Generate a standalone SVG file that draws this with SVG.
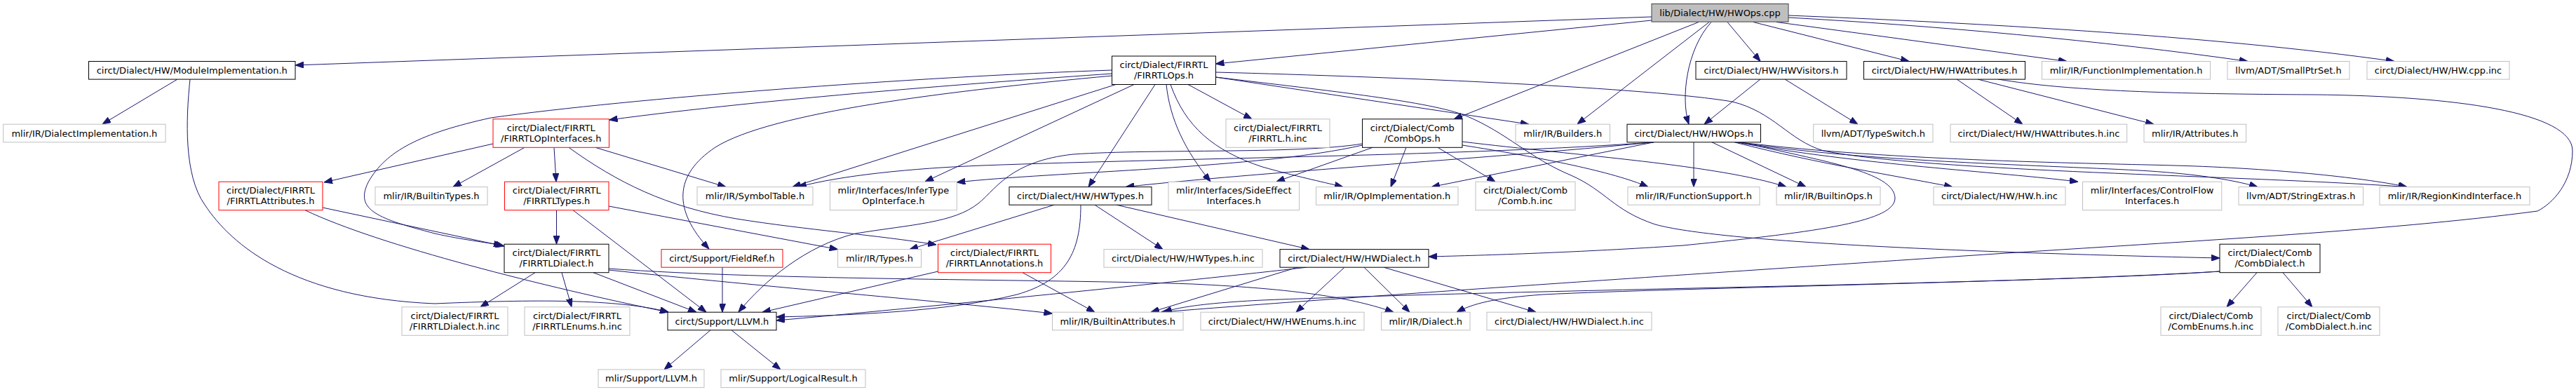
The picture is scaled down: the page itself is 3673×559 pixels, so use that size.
<svg xmlns="http://www.w3.org/2000/svg" width="3673" height="559" viewBox="0 0 3673 559">
<style>
rect.n{fill:#fff;stroke-width:1}
.b{stroke:#000}
.g{stroke:#bfbfbf}
.r{stroke:#ff0000}
rect.root{fill:#bfbfbf;stroke:#404040;stroke-width:1}
text{font-family:'DejaVu Sans','Liberation Sans',sans-serif;font-size:13px;text-anchor:middle;fill:#000}
#edges path{fill:none;stroke:#191970;stroke-width:1;marker-end:url(#ah)}
</style>
<defs>
<marker id="ah" viewBox="0 0 12 9" refX="12" refY="4.5" markerWidth="12" markerHeight="9" markerUnits="userSpaceOnUse" orient="auto">
<path d="M0,0 L12,4.5 L0,9 z" fill="#191970" stroke="#191970" stroke-width="1"/>
</marker>
</defs>
<rect x="0" y="0" width="3673" height="559" fill="#fff"/>
<g id="edges">
<path d="M2355,24 L421,93"/>
<path d="M2355,29 L1733.5,91"/>
<path d="M2422,31.5 L2073,170"/>
<path d="M2437,31.5 L2249,177"/>
<path d="M2440,31.5 C2405,70 2396,140 2408,177"/>
<path d="M2463,31.5 L2510,87.5"/>
<path d="M2500,31.5 L2722,87.5"/>
<path d="M2533,31.5 L2947,87.5"/>
<path d="M2550,25 C2750,36 3000,58 3205,87.5"/>
<path d="M2550,22 C2800,32 3150,50 3414,87.5"/>
<path d="M253,113 L146,177"/>
<path d="M271,113 C265,170 262,250 292,292 C330,350 420,425 620,433 C760,427 880,426 953,445"/>
<path d="M1585.5,105 C1400,118 1100,140 868.5,171"/>
<path d="M1585.5,100 C1300,110 900,140 700,168 C600,190 550,215 525,260 C505,300 540,312 620,333 C660,342 690,345 716,350"/>
<path d="M1591,120.5 L1130,266.5"/>
<path d="M1585.5,108 C1350,130 1100,160 1020,210 C960,250 960,300 1011,355"/>
<path d="M1617,120.5 L1319,259"/>
<path d="M1647,120.5 L1552,266.6"/>
<path d="M1663,120.5 C1668,170 1690,215 1726,259"/>
<path d="M1669,120.5 C1690,180 1730,215 1800,238 C1850,252 1880,258 1915,266.6"/>
<path d="M1694,120.5 L1785,169.8"/>
<path d="M1733.5,110 L2180,177.2"/>
<path d="M1733.5,103 C2000,110 2350,125 2470,145 C2530,160 2550,200 2600,215 C2750,245 3200,250 3432,266.6"/>
<path d="M1733.5,110 C1900,130 2040,145 2090,165 C2150,190 2180,225 2240,250 C2290,272 2300,300 2360,320 C2450,345 2800,360 3165,368"/>
<path d="M1942.5,205 C1850,220 1650,212 1530,220 C1440,230 1420,270 1395,290 C1360,318 1300,320 1220,333 C1150,350 1090,400 1053,445"/>
<path d="M1942.5,207 C1800,240 1500,245 1364.3,260"/>
<path d="M1958,210 L1820,259"/>
<path d="M2005,210.3 L1983,266.6"/>
<path d="M2050,210.3 L2132,259.2"/>
<path d="M2085,207 C2200,225 2300,245 2350,266.6"/>
<path d="M2085,202 C2250,222 2450,235 2547,266.6"/>
<path d="M2415,202.8 L2415,266.6"/>
<path d="M2441,202.8 L2575,266.6"/>
<path d="M2473,202.8 C2600,235 2700,250 2784,266.6"/>
<path d="M2476,202.8 C2650,235 2850,245 2963,259.2"/>
<path d="M2478,202.8 C2650,230 2900,235 3050,243 C3120,247 3180,255 3219,266.6"/>
<path d="M2480,202.8 C2700,230 3000,233 3100,236 C3250,240 3380,255 3432,266.6"/>
<path d="M2482,202.8 C2600,230 2700,245 2702,282 C2703,315 2600,330 2400,350 C2250,360 2120,364 2037,366"/>
<path d="M2358,202.8 L2041,266.6"/>
<path d="M2358,202.8 C2100,222 1700,225 1400,236 C1300,240 1200,250 1138,266.6"/>
<path d="M2358,202.8 C2100,228 1800,245 1605,266.6"/>
<path d="M2510,113 L2430,177.2"/>
<path d="M2545,113 L2649,177.2"/>
<path d="M2790,113 L2884,177.2"/>
<path d="M2820,113 L3071,177.2"/>
<path d="M2849,113 C2950,130 3100,134 3300,135 C3500,137 3668,160 3668,215 C3668,260 3640,290 3618,301 C3400,330 3100,345 2800,365 C2400,392 1900,425 1655,445.2"/>
<path d="M3218,388.7 L3175,437.8"/>
<path d="M3255,388.7 L3297,437.8"/>
<path d="M3165,387 C2900,405 2200,412 1800,428 C1720,432 1680,438 1659,445.2"/>
<path d="M3165,387 C2900,403 2400,410 2200,420 C2130,425 2100,433 2077,445.2"/>
<path d="M748,210.3 L646,266.6"/>
<path d="M790,210.3 L793,259.2"/>
<path d="M849,210.3 L1035,266.6"/>
<path d="M811,210.3 C880,260 950,295 1050,312 C1150,328 1250,335 1335,349"/>
<path d="M703,205 L462,260"/>
<path d="M460,296 L719,351"/>
<path d="M435,299.7 C540,350 780,410 953,445.2"/>
<path d="M793.5,299.7 L793.5,348.2"/>
<path d="M817,299.7 L1007,445.2"/>
<path d="M868,294 L1194.6,355.6"/>
<path d="M763,388.7 L685,437.8"/>
<path d="M801,388.7 L815,437.8"/>
<path d="M846,388.7 L993,445.2"/>
<path d="M868,383 C1100,400 1500,398 1700,405 C1850,412 1930,425 1987,445.2"/>
<path d="M868,385 C1100,410 1350,430 1500.5,447"/>
<path d="M1030,381.2 L1030,445.2"/>
<path d="M1337.5,387 L1087,445.2"/>
<path d="M1458,388.7 L1561,445.2"/>
<path d="M1503,292.2 L1297,355.6"/>
<path d="M1561,292.2 L1658,355.6"/>
<path d="M1541,292.2 C1541,360 1520,400 1450,420 C1350,445 1200,450 1107,452"/>
<path d="M1592,292.2 L1867,355.6"/>
<path d="M1863,381.2 C1700,400 1300,440 1107,457"/>
<path d="M1850,381.2 L1641,445.2"/>
<path d="M1917,381.2 L1848,445.2"/>
<path d="M1945,381.2 L2010,445.2"/>
<path d="M1973,381.2 L2190,445.2"/>
<path d="M1013,470.8 L947,527"/>
<path d="M1043,470.8 L1113,527"/>
</g>
<g id="n0"><rect class="root" x="2355" y="5.5" width="195" height="25.6"/><text x="2452.5" y="22.8">lib/Dialect/HW/HWOps.cpp</text></g>
<g id="n1"><rect class="n b" x="126.5" y="87.5" width="294.5" height="25.6"/><text x="273.75" y="104.8">circt/Dialect/HW/ModuleImplementation.h</text></g>
<g id="n2"><rect class="n b" x="1585.5" y="80" width="148" height="40.5"/><text x="1659.5" y="97.3">circt/Dialect/FIRRTL</text><text x="1659.5" y="111.8">/FIRRTLOps.h</text></g>
<g id="n3"><rect class="n b" x="2418" y="87.5" width="215" height="25.6"/><text x="2525.5" y="104.8">circt/Dialect/HW/HWVisitors.h</text></g>
<g id="n4"><rect class="n b" x="2657.5" y="87.5" width="230" height="25.6"/><text x="2772.5" y="104.8">circt/Dialect/HW/HWAttributes.h</text></g>
<g id="n5"><rect class="n g" x="2911.5" y="87.5" width="240" height="25.6"/><text x="3031.5" y="104.8">mlir/IR/FunctionImplementation.h</text></g>
<g id="n6"><rect class="n g" x="3176" y="87.5" width="174" height="25.6"/><text x="3263" y="104.8">llvm/ADT/SmallPtrSet.h</text></g>
<g id="n7"><rect class="n g" x="3375" y="87.5" width="203" height="25.6"/><text x="3476.5" y="104.8">circt/Dialect/HW/HW.cpp.inc</text></g>
<g id="n8"><rect class="n g" x="4.7" y="177.2" width="231.3" height="25.6"/><text x="120.35" y="194.5">mlir/IR/DialectImplementation.h</text></g>
<g id="n9"><rect class="n r" x="703" y="169.8" width="165.5" height="40.5"/><text x="785.75" y="187">circt/Dialect/FIRRTL</text><text x="785.75" y="201.5">/FIRRTLOpInterfaces.h</text></g>
<g id="n10"><rect class="n g" x="1748" y="169.8" width="148" height="40.5"/><text x="1822" y="187">circt/Dialect/FIRRTL</text><text x="1822" y="201.5">/FIRRTL.h.inc</text></g>
<g id="n11"><rect class="n b" x="1942.5" y="169.8" width="142.5" height="40.5"/><text x="2013.75" y="187">circt/Dialect/Comb</text><text x="2013.75" y="201.5">/CombOps.h</text></g>
<g id="n12"><rect class="n g" x="2161" y="177.2" width="134.5" height="25.6"/><text x="2228.25" y="194.5">mlir/IR/Builders.h</text></g>
<g id="n13"><rect class="n b" x="2320" y="177.2" width="190.5" height="25.6"/><text x="2415.25" y="194.5">circt/Dialect/HW/HWOps.h</text></g>
<g id="n14"><rect class="n g" x="2585.7" y="177.2" width="170.3" height="25.6"/><text x="2670.85" y="194.5">llvm/ADT/TypeSwitch.h</text></g>
<g id="n15"><rect class="n g" x="2781" y="177.2" width="251.7" height="25.6"/><text x="2906.85" y="194.5">circt/Dialect/HW/HWAttributes.h.inc</text></g>
<g id="n16"><rect class="n g" x="3057" y="177.2" width="145.6" height="25.6"/><text x="3129.8" y="194.5">mlir/IR/Attributes.h</text></g>
<g id="n17"><rect class="n r" x="312" y="259.2" width="148" height="40.5"/><text x="386" y="276.4">circt/Dialect/FIRRTL</text><text x="386" y="290.9">/FIRRTLAttributes.h</text></g>
<g id="n18"><rect class="n g" x="535" y="266.6" width="160" height="25.6"/><text x="615" y="283.9">mlir/IR/BuiltinTypes.h</text></g>
<g id="n19"><rect class="n r" x="719.5" y="259.2" width="148.5" height="40.5"/><text x="793.75" y="276.4">circt/Dialect/FIRRTL</text><text x="793.75" y="290.9">/FIRRTLTypes.h</text></g>
<g id="n20"><rect class="n g" x="994" y="266.6" width="165" height="25.6"/><text x="1076.5" y="283.9">mlir/IR/SymbolTable.h</text></g>
<g id="n21"><rect class="n g" x="1183.5" y="259.2" width="180.8" height="40.5"/><text x="1273.9" y="276.4">mlir/Interfaces/InferType</text><text x="1273.9" y="290.9">OpInterface.h</text></g>
<g id="n22"><rect class="n b" x="1439" y="266.6" width="203" height="25.6"/><text x="1540.5" y="283.9">circt/Dialect/HW/HWTypes.h</text></g>
<g id="n23"><rect class="n g" x="1666" y="259.2" width="186.6" height="40.5"/><text x="1759.3" y="276.4">mlir/Interfaces/SideEffect</text><text x="1759.3" y="290.9">Interfaces.h</text></g>
<g id="n24"><rect class="n g" x="1876.6" y="266.6" width="202.4" height="25.6"/><text x="1977.8" y="283.9">mlir/IR/OpImplementation.h</text></g>
<g id="n25"><rect class="n g" x="2104" y="259.2" width="142" height="40.5"/><text x="2175" y="276.4">circt/Dialect/Comb</text><text x="2175" y="290.9">/Comb.h.inc</text></g>
<g id="n26"><rect class="n g" x="2321" y="266.6" width="188" height="25.6"/><text x="2415" y="283.9">mlir/IR/FunctionSupport.h</text></g>
<g id="n27"><rect class="n g" x="2533" y="266.6" width="148" height="25.6"/><text x="2607" y="283.9">mlir/IR/BuiltinOps.h</text></g>
<g id="n28"><rect class="n g" x="2757" y="266.6" width="188" height="25.6"/><text x="2851" y="283.9">circt/Dialect/HW/HW.h.inc</text></g>
<g id="n29"><rect class="n g" x="2969.5" y="259.2" width="198.3" height="40.5"/><text x="3068.65" y="276.4">mlir/Interfaces/ControlFlow</text><text x="3068.65" y="290.9">Interfaces.h</text></g>
<g id="n30"><rect class="n g" x="3192" y="266.6" width="177.6" height="25.6"/><text x="3280.8" y="283.9">llvm/ADT/StringExtras.h</text></g>
<g id="n31"><rect class="n g" x="3393" y="266.6" width="214" height="25.6"/><text x="3500" y="283.9">mlir/IR/RegionKindInterface.h</text></g>
<g id="n32"><rect class="n b" x="719" y="348.2" width="149" height="40.5"/><text x="793.5" y="365.4">circt/Dialect/FIRRTL</text><text x="793.5" y="379.9">/FIRRTLDialect.h</text></g>
<g id="n33"><rect class="n r" x="943" y="355.6" width="173" height="25.6"/><text x="1029.5" y="372.9">circt/Support/FieldRef.h</text></g>
<g id="n34"><rect class="n g" x="1194.6" y="355.6" width="118.9" height="25.6"/><text x="1254.05" y="372.9">mlir/IR/Types.h</text></g>
<g id="n35"><rect class="n r" x="1337.5" y="348.2" width="161" height="40.5"/><text x="1418" y="365.4">circt/Dialect/FIRRTL</text><text x="1418" y="379.9">/FIRRTLAnnotations.h</text></g>
<g id="n36"><rect class="n g" x="1574" y="355.6" width="226" height="25.6"/><text x="1687" y="372.9">circt/Dialect/HW/HWTypes.h.inc</text></g>
<g id="n37"><rect class="n b" x="1825" y="355.6" width="212" height="25.6"/><text x="1931" y="372.9">circt/Dialect/HW/HWDialect.h</text></g>
<g id="n38"><rect class="n b" x="3165" y="348.2" width="143" height="40.5"/><text x="3236.5" y="365.4">circt/Dialect/Comb</text><text x="3236.5" y="379.9">/CombDialect.h</text></g>
<g id="n39"><rect class="n g" x="573" y="437.8" width="151" height="40.5"/><text x="648.5" y="455">circt/Dialect/FIRRTL</text><text x="648.5" y="469.5">/FIRRTLDialect.h.inc</text></g>
<g id="n40"><rect class="n g" x="748" y="437.8" width="150" height="40.5"/><text x="823" y="455">circt/Dialect/FIRRTL</text><text x="823" y="469.5">/FIRRTLEnums.h.inc</text></g>
<g id="n41"><rect class="n b" x="952" y="445.2" width="155" height="25.6"/><text x="1029.5" y="462.5">circt/Support/LLVM.h</text></g>
<g id="n42"><rect class="n g" x="1500.5" y="445.2" width="186.5" height="25.6"/><text x="1593.75" y="462.5">mlir/IR/BuiltinAttributes.h</text></g>
<g id="n43"><rect class="n g" x="1712" y="445.2" width="233" height="25.6"/><text x="1828.5" y="462.5">circt/Dialect/HW/HWEnums.h.inc</text></g>
<g id="n44"><rect class="n g" x="1969.5" y="445.2" width="126.5" height="25.6"/><text x="2032.75" y="462.5">mlir/IR/Dialect.h</text></g>
<g id="n45"><rect class="n g" x="2120" y="445.2" width="235" height="25.6"/><text x="2237.5" y="462.5">circt/Dialect/HW/HWDialect.h.inc</text></g>
<g id="n46"><rect class="n g" x="3081" y="437.8" width="143" height="40.5"/><text x="3152.5" y="455">circt/Dialect/Comb</text><text x="3152.5" y="469.5">/CombEnums.h.inc</text></g>
<g id="n47"><rect class="n g" x="3248" y="437.8" width="145" height="40.5"/><text x="3320.5" y="455">circt/Dialect/Comb</text><text x="3320.5" y="469.5">/CombDialect.h.inc</text></g>
<g id="n48"><rect class="n g" x="853" y="527" width="151" height="25.6"/><text x="928.5" y="544.3">mlir/Support/LLVM.h</text></g>
<g id="n49"><rect class="n g" x="1028" y="527" width="206" height="25.6"/><text x="1131" y="544.3">mlir/Support/LogicalResult.h</text></g>
</svg>
